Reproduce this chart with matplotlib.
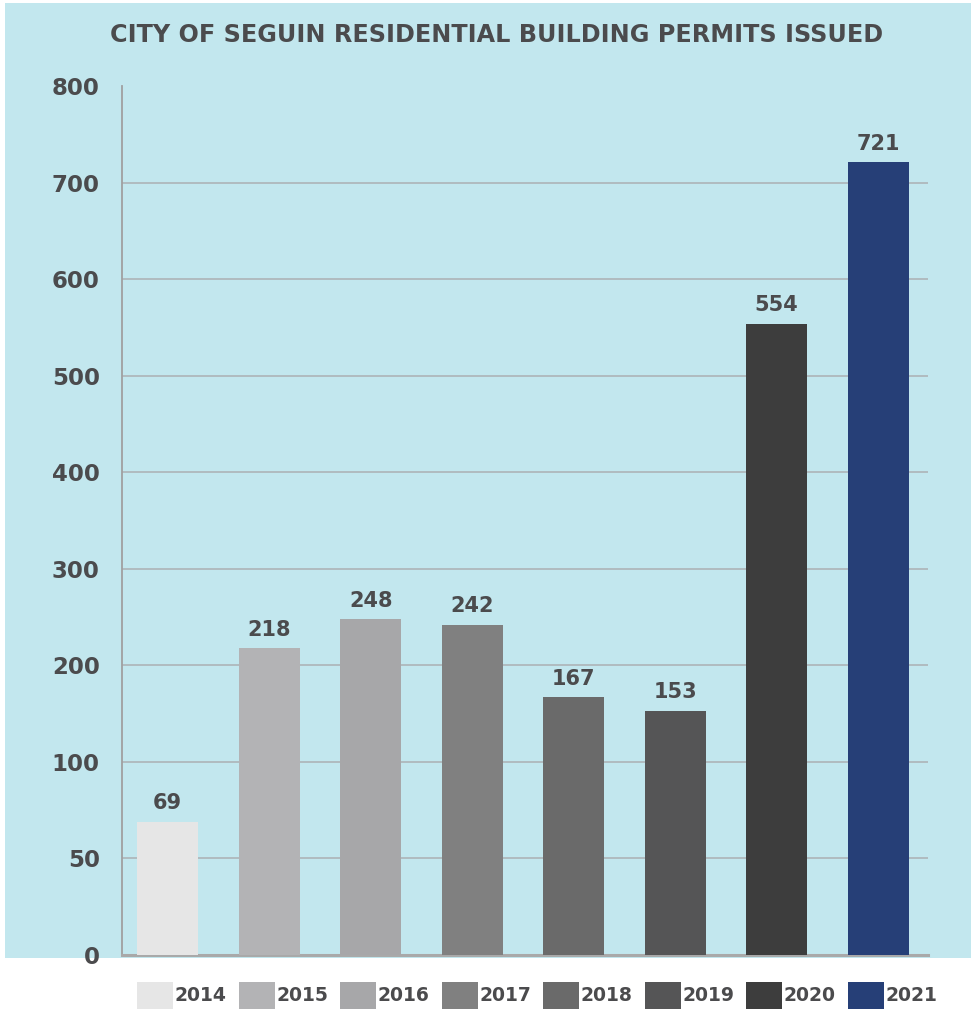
import numpy as np
import matplotlib
matplotlib.use("Agg")
import matplotlib.pyplot as plt
from matplotlib.patches import Rectangle

years = ["2014", "2015", "2016", "2017", "2018", "2019", "2020", "2021"]
permits = [69, 218, 248, 242, 167, 153, 554, 721]
colors = ["#e6e6e6", "#b3b3b5", "#a7a7a9", "#808080", "#6a6a6a", "#555556", "#3d3d3d", "#263f77"]
ytick_values = [0, 50, 100, 200, 300, 400, 500, 600, 700, 800]
title = "CITY OF SEGUIN RESIDENTIAL BUILDING PERMITS ISSUED"

TEXT = "#4b4b4d"
BG = "#c2e7ee"
plt.rcParams['font.family'] = ['DejaVu Sans']

def fwd(v):
    v = np.asarray(v, dtype=float)
    return np.where(v <= 100, v / 50.0, 2.0 + (v - 100.0) / 100.0)

def inv(u):
    u = np.asarray(u, dtype=float)
    return np.where(u <= 2, u * 50.0, 100.0 + (u - 2.0) * 100.0)

W, H = 971, 1015
fig = plt.figure(figsize=(W / 100, H / 100), dpi=100, facecolor="white")
bg = Rectangle((5 / W, 1 - 958 / H), 1 - 5 / W, (958 - 3) / H,
               transform=fig.transFigure, facecolor=BG, edgecolor="none", zorder=-10)
fig.add_artist(bg)

ax = fig.add_axes([122 / W, 1 - 955 / H, (928 - 122) / W, (955 - 86) / H])
ax.set_facecolor("none")
ax.set_yscale("function", functions=(fwd, inv))
x = np.arange(len(years))
ax.bar(x, permits, width=0.6, color=colors, zorder=3)
for xi, v in zip(x, permits):
    ax.annotate(str(v), (xi, v), xytext=(0, 6), textcoords="offset points",
                ha="center", va="bottom", fontsize=15, fontweight="bold", color=TEXT)

ax.set_xlim(-0.45, 7.49)
ax.set_ylim(0, 800)
ax.set_yticks(ytick_values)
ax.set_yticklabels([str(t) for t in ytick_values])
ax.yaxis.set_minor_locator(matplotlib.ticker.NullLocator())
ax.tick_params(axis="y", length=0, pad=16, labelsize=16.5, labelcolor=TEXT)
for lab in ax.get_yticklabels():
    lab.set_fontweight("bold")
ax.set_xticks([])
ax.grid(axis="y", color="#abb0b2", linewidth=1.1, zorder=1)
ax.get_ygridlines()[-1].set_visible(False)
ax.get_ygridlines()[0].set_visible(False)
for s in ["top", "right"]:
    ax.spines[s].set_visible(False)
ax.spines["left"].set_color("#a0a0a0")
ax.spines["left"].set_linewidth(1.3)
ax.spines["bottom"].set_color("#a9a9a9")
ax.spines["bottom"].set_linewidth(2.2)

fig.text(497 / W, 1 - 35 / H, title, ha="center", va="center",
         fontsize=17.2, fontweight="bold", color=TEXT)

# legend row
lax = fig.add_axes([122 / W, 1 - 1009 / H, (928 - 122) / W, 27 / H])
lax.set_xlim(-0.45, 7.49)
lax.set_ylim(0, 1)
lax.axis("off")
lax.bar(x - 0.3, [1] * len(x), width=0.355, align="edge", color=colors)
for xi, y in zip(x, years):
    lax.text(xi + 0.07, 0.5, y, ha="left", va="center", fontsize=13.5,
             fontweight="bold", color=TEXT)

fig.savefig("out.png", dpi=100, facecolor="white")
